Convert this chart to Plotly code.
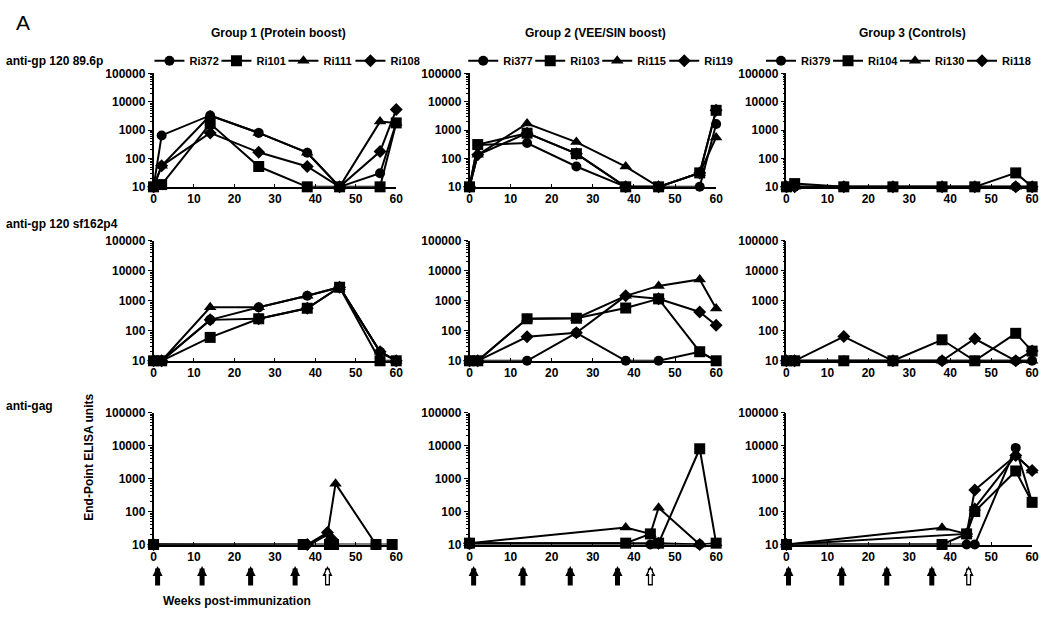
import plotly.graph_objects as go

W, H = 1050, 617

# ---------------- data ----------------
weeks = [0, 2, 14, 26, 38, 46, 56, 60]

group_titles = ["Group 1 (Protein boost)", "Group 2 (VEE/SIN boost)", "Group 3 (Controls)"]
assay_labels = ["anti-gp 120 89.6p", "anti-gp 120 sf162p4", "anti-gag"]

animals_g1 = ["Ri372", "Ri101", "Ri111", "Ri108"]
animals_g2 = ["Ri377", "Ri103", "Ri115", "Ri119"]
animals_g3 = ["Ri379", "Ri104", "Ri130", "Ri118"]

# anti-gp120 89.6p (values at `weeks`)
gp896_g1_Ri372 = [10, 650, 3300, 800, 160, 10, 30, 1800]
gp896_g1_Ri101 = [10, 12, 1700, 52, 10, 10, 10, 1800]
gp896_g1_Ri111 = [10, 55, 3300, 800, 160, 10, 2000, 1800]
gp896_g1_Ri108 = [10, 55, 800, 165, 52, 10, 175, 5300]

gp896_g2_Ri377 = [10, 300, 350, 52, 10, 10, 10, 1650]
gp896_g2_Ri103 = [10, 310, 780, 148, 10, 10, 31, 5000]
gp896_g2_Ri115 = [10, 135, 1700, 380, 52, 10, 31, 550]
gp896_g2_Ri119 = [10, 135, 780, 148, 10, 10, 31, 5000]

gp896_g3_Ri379 = [10, 10, 10, 10, 10, 10, 10, 10]
gp896_g3_Ri104 = [10, 13, 10, 10, 10, 10, 31, 10]
gp896_g3_Ri130 = [10, 10, 10, 10, 10, 10, 10, 10]
gp896_g3_Ri118 = [10, 10, 10, 10, 10, 10, 10, 10]

# anti-gp120 sf162p4 (values at `weeks`)
sf162_g1_Ri372 = [10, 10, 230, 600, 1450, 2800, 20, 10]
sf162_g1_Ri101 = [10, 10, 60, 250, 560, 2800, 10, 10]
sf162_g1_Ri111 = [10, 10, 600, 600, 1450, 2800, 20, 10]
sf162_g1_Ri108 = [10, 10, 230, 250, 560, 2800, 20, 10]

sf162_g2_Ri377 = [10, 10, 10, 85, 10, 10, 20, 10]
sf162_g2_Ri103 = [10, 10, 250, 260, 570, 1150, 20, 10]
sf162_g2_Ri115 = [10, 10, 250, 260, 1450, 3100, 5100, 545]
sf162_g2_Ri119 = [10, 10, 63, 85, 1450, 1150, 420, 152]

sf162_g3_Ri379 = [10, 10, 10, 10, 10, 10, 10, 10]
sf162_g3_Ri104 = [10, 10, 10, 10, 50, 10, 82, 21]
sf162_g3_Ri130 = [10, 10, 10, 10, 10, 10, 10, 10]
sf162_g3_Ri118 = [10, 10, 64, 10, 10, 54, 10, 21]

# anti-gag (own sampling weeks per animal)
gag_g1_Ri372_w = [0, 38, 44, 46, 56]
gag_g1_Ri372 = [9, 9, 9, 9, 9]
gag_g1_Ri101_w = [0, 37, 43.5, 44.5, 55, 59]
gag_g1_Ri101 = [10, 10, 10, 10, 10, 10]
gag_g1_Ri111_w = [0, 38, 43, 45, 55]
gag_g1_Ri111 = [10, 9, 20, 700, 10]
gag_g1_Ri108_w = [0, 38, 43, 44, 46]
gag_g1_Ri108 = [10, 10, 23, 15, 9]

gag_g2_Ri377_w = [0, 44, 56]
gag_g2_Ri377 = [10, 10, 10]
gag_g2_Ri103_w = [0, 38, 44, 46, 56, 60]
gag_g2_Ri103 = [11, 11, 21, 11, 8000, 11]
gag_g2_Ri115_w = [0, 38, 44, 46, 56, 60]
gag_g2_Ri115 = [11, 33, 21, 130, 10, 11]
gag_g2_Ri119_w = [0, 46, 56]
gag_g2_Ri119 = [11, 11, 10]

gag_g3_Ri379_w = [0, 44, 46, 56, 60]
gag_g3_Ri379 = [10, 10, 10, 8500, 190]
gag_g3_Ri104_w = [0, 38, 44, 46, 56, 60]
gag_g3_Ri104 = [10, 10, 21, 100, 1700, 190]
gag_g3_Ri130_w = [0, 38, 44, 46, 56, 60]
gag_g3_Ri130 = [10, 32, 21, 130, 5000, 1750]
gag_g3_Ri118_w = [0, 44, 46, 56, 60]
gag_g3_Ri118 = [10, 21, 450, 5000, 1750]

# immunization arrows (weeks), per group
prime_weeks_g1 = [1, 12, 24, 35]
prime_weeks_g2 = [1, 13, 24.5, 36]
prime_weeks_g3 = [0.5, 13.5, 24.5, 35.5]
boost_week_g1 = 43
boost_week_g2 = 44
boost_week_g3 = 44.5

y_tickvals = [10, 100, 1000, 10000, 100000]
y_ticktext = ["10", "100", "1000", "10000", "100000"]
x_tickvals = [0, 10, 20, 30, 40, 50, 60]
x_ticktext = ["0", "10", "20", "30", "40", "50", "60"]

# ---------------- assemble ----------------
panels = [
    [  # row 0 : 89.6p
        (animals_g1, [(weeks, gp896_g1_Ri372), (weeks, gp896_g1_Ri101), (weeks, gp896_g1_Ri111), (weeks, gp896_g1_Ri108)]),
        (animals_g2, [(weeks, gp896_g2_Ri377), (weeks, gp896_g2_Ri103), (weeks, gp896_g2_Ri115), (weeks, gp896_g2_Ri119)]),
        (animals_g3, [(weeks, gp896_g3_Ri379), (weeks, gp896_g3_Ri104), (weeks, gp896_g3_Ri130), (weeks, gp896_g3_Ri118)]),
    ],
    [  # row 1 : sf162p4
        (animals_g1, [(weeks, sf162_g1_Ri372), (weeks, sf162_g1_Ri101), (weeks, sf162_g1_Ri111), (weeks, sf162_g1_Ri108)]),
        (animals_g2, [(weeks, sf162_g2_Ri377), (weeks, sf162_g2_Ri103), (weeks, sf162_g2_Ri115), (weeks, sf162_g2_Ri119)]),
        (animals_g3, [(weeks, sf162_g3_Ri379), (weeks, sf162_g3_Ri104), (weeks, sf162_g3_Ri130), (weeks, sf162_g3_Ri118)]),
    ],
    [  # row 2 : gag
        (animals_g1, [(gag_g1_Ri372_w, gag_g1_Ri372), (gag_g1_Ri101_w, gag_g1_Ri101), (gag_g1_Ri111_w, gag_g1_Ri111), (gag_g1_Ri108_w, gag_g1_Ri108)]),
        (animals_g2, [(gag_g2_Ri377_w, gag_g2_Ri377), (gag_g2_Ri103_w, gag_g2_Ri103), (gag_g2_Ri115_w, gag_g2_Ri115), (gag_g2_Ri119_w, gag_g2_Ri119)]),
        (animals_g3, [(gag_g3_Ri379_w, gag_g3_Ri379), (gag_g3_Ri104_w, gag_g3_Ri104), (gag_g3_Ri130_w, gag_g3_Ri130), (gag_g3_Ri118_w, gag_g3_Ri118)]),
    ],
]
arrows = [(prime_weeks_g1, boost_week_g1), (prime_weeks_g2, boost_week_g2), (prime_weeks_g3, boost_week_g3)]

# ---------------- styling / geometry ----------------
FAM = "Liberation Sans, Arial, Helvetica, sans-serif"
BOLD12 = dict(family=FAM, size=12, color="black", weight="bold")
symbols = ["circle", "square", "triangle-up", "diamond"]
msizes = [10, 11, 11, 10]
entry_w = [22, 22, 22, 34]

col_px = [(152, 397), (471, 720), (791, 1039)]
row_px = [(68, 184), (239, 362), (415, 550)]
legend_names = ["legend", "legend2", "legend3"]

minor_vals = [m * 10 ** e for e in range(1, 5) for m in range(2, 10)]

fig = go.Figure()
layout = dict(
    width=W, height=H, autosize=False,
    margin=dict(l=0, r=0, t=0, b=0),
    paper_bgcolor="white", plot_bgcolor="white",
    font=dict(family=FAM, color="black"),
    showlegend=True,
)

for r in range(3):
    for c in range(3):
        k = r * 3 + c + 1
        sx = "" if k == 1 else str(k)
        x0, x1 = col_px[c]
        yt, yb = row_px[r]
        layout["xaxis" + sx] = dict(
            domain=[x0 / W, x1 / W], anchor="y" + sx, range=[0, 60],
            tickmode="array", tickvals=x_tickvals, ticktext=x_ticktext,
            showline=True, linecolor="black", linewidth=1.5,
            ticks="inside", ticklen=3, tickwidth=1, tickcolor="black",
            tickfont=BOLD12, showgrid=False, zeroline=False, fixedrange=True,
        )
        layout["yaxis" + sx] = dict(
            domain=[1 - yb / H, 1 - yt / H], anchor="x" + sx, type="log", range=[1, 5],
            tickmode="array", tickvals=y_tickvals, ticktext=y_ticktext,
            showline=True, linecolor="black", linewidth=1.5,
            ticks="outside", ticklen=4, tickwidth=1, tickcolor="black",
            minor=dict(tickmode="array", tickvals=minor_vals, ticks="outside",
                       ticklen=2, tickwidth=1, tickcolor="black", showgrid=False),
            tickfont=BOLD12, showgrid=False, zeroline=False, fixedrange=True,
        )
        names, series = panels[r][c]
        for i, (name, (xs, ys)) in enumerate(zip(names, series)):
            fig.add_trace(go.Scatter(
                x=xs, y=ys, mode="lines+markers", name=name,
                xaxis="x" + sx, yaxis="y" + sx,
                line=dict(color="black", width=2),
                marker=dict(symbol=symbols[i], size=msizes[i], color="black"),
                cliponaxis=False,
                showlegend=(r == 0), legend=legend_names[c], legendwidth=entry_w[i],
                hoverinfo="x+y+name",
            ))

# legends
leg_common = dict(orientation="h", yref="paper", y=1 - 55 / H, yanchor="middle",
                  bgcolor="rgba(0,0,0,0)", font=dict(family=FAM, size=11, color="black", weight="bold"),
                  itemwidth=30, tracegroupgap=0, borderwidth=0)
layout["legend"] = dict(leg_common, x=(col_px[0][0] + col_px[0][1]) / 2 / W + 0.014, xanchor="center")
layout["legend2"] = dict(leg_common, x=(col_px[1][0] + col_px[1][1]) / 2 / W + 0.01, xanchor="center")
layout["legend3"] = dict(leg_common, x=1048 / W, xanchor="right")

ann = []
ann.append(dict(text="A", x=11 / W, y=1 - 16 / H, xref="paper", yref="paper",
                xanchor="left", yanchor="middle", showarrow=False,
                font=dict(family=FAM, size=21, color="black")))
for c in range(3):
    ann.append(dict(text=group_titles[c], x=(col_px[c][0] + col_px[c][1]) / 2 / W + 0.003,
                    y=1 - 27 / H, xref="paper", yref="paper", xanchor="center", yanchor="middle",
                    showarrow=False, font=BOLD12))
row_label_y = [55, 222, 408]
for r in range(3):
    ann.append(dict(text=assay_labels[r], x=1 / W, y=1 - row_label_y[r] / H, xref="paper", yref="paper",
                    xanchor="left", yanchor="middle", showarrow=False, font=BOLD12))
ann.append(dict(text="End-Point ELISA units", x=86 / W, y=1 - 461 / H, xref="paper", yref="paper",
                textangle=-90, xanchor="center", yanchor="middle", showarrow=False, font=BOLD12))
ann.append(dict(text="Weeks post-immunization", x=160 / W, y=1 - 608 / H, xref="paper", yref="paper",
                xanchor="left", yanchor="middle", showarrow=False, font=BOLD12))

tip_y = 1 - 572 / H
for c, (primes, boost) in enumerate(arrows):
    xr = "x" + str(7 + c)
    for wk in primes:
        ann.append(dict(text="", x=wk, xref=xr, y=tip_y, yref="paper", ax=0, ay=21,
                        axref="pixel", ayref="pixel", showarrow=True, arrowhead=2,
                        arrowsize=0.4, arrowwidth=5, arrowcolor="black"))
    ann.append(dict(text="", x=boost, xref=xr, y=tip_y, yref="paper", ax=0, ay=21,
                    axref="pixel", ayref="pixel", showarrow=True, arrowhead=2,
                    arrowsize=0.4, arrowwidth=5, arrowcolor="black"))
    ann.append(dict(text="", x=boost, xref=xr, y=tip_y, yref="paper", ax=0, ay=21,
                    axref="pixel", ayref="pixel", showarrow=True, arrowhead=2,
                    arrowsize=0.4, arrowwidth=2.5, arrowcolor="white",
                    standoff=3, startstandoff=1.5))
layout["annotations"] = ann

fig.update_layout(**layout)
fig.write_html("out.html", config={"displayModeBar": False},
               post_script="document.body.style.margin='0';document.body.style.overflow='hidden';")
